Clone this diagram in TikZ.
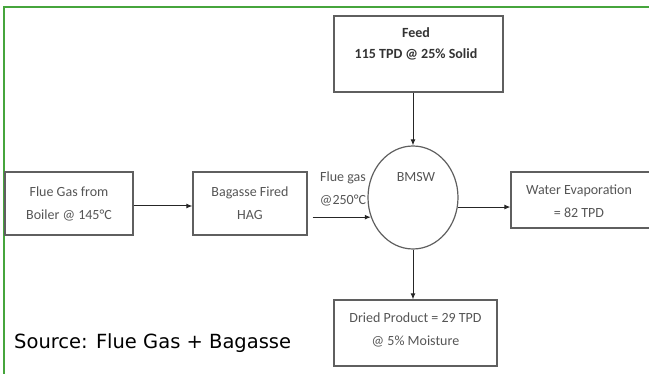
\documentclass[tikz,border=0pt]{standalone}
\usepackage{fontspec}
\setmainfont{Carlito}
\newfontfamily\srcfont{DejaVu Sans}
\usetikzlibrary{shapes.geometric,arrows.meta}
\definecolor{frame}{RGB}{70,165,60}
\definecolor{boxline}{RGB}{95,95,95}
\definecolor{boxtext}{RGB}{85,85,85}
\tikzset{
  x=1pt, y=-1pt,
  pbox/.style={draw=boxline, line width=1.2pt, rectangle, inner sep=0pt},
  btext/.style={text=boxtext, align=center, font=\fontsize{14}{23}\selectfont, inner sep=0pt},
  arr/.style={draw=black!85, line width=1pt, -{Latex[length=6pt,width=5pt]}},
}
\begin{document}
\begin{tikzpicture}
\useasboundingbox (0,0) rectangle (649,374);
\begin{scope}
\clip (0,0) rectangle (649,374);
% frame
\draw[frame, line width=2pt] (3.5,374) -- (3.5,7.5) -- (649,7.5);
% boxes
\node[pbox, minimum width=169pt, minimum height=76pt] (feed) at (418.5,54) {};
\node[btext, text=black!80, font=\bfseries\fontsize{14}{21}\selectfont] (feedtxt) at (416,44) {Feed\\115 TPD @ 25\% Solid};
\node[pbox, minimum width=128pt, minimum height=63pt, btext] (flue) at (69,203.5) {Flue Gas from\\Boiler @ 145°C};
\node[pbox, minimum width=114pt, minimum height=63pt, btext] (hag) at (250,203.5) {Bagasse Fired\\HAG};
\node[draw=boxline, line width=1.2pt, ellipse, minimum width=90pt, minimum height=103pt, inner sep=0pt] (bmsw) at (413,197.5) {};
\node[btext] (bmswtxt) at (416,177) {BMSW};
\node[pbox, minimum width=140pt, minimum height=56pt] (water) at (581,200) {};
\node[btext] (watertxt) at (579,201.5) {Water Evaporation\\= 82 TPD};
\node[pbox, minimum width=163pt, minimum height=66pt] (dried) at (415.5,333) {};
\node[btext] (driedtxt) at (415.5,330) {Dried Product = 29 TPD\\@ 5\% Moisture};
\node[btext] (gaslbl) at (343,188.5) {Flue gas\\@250°C};
\node[anchor=west, inner sep=0pt, font=\srcfont\fontsize{19.5}{22}\selectfont] (src) at (14,343) {Source: Flue Gas + Bagasse};
% connectors
\draw[arr] ([yshift=-2.5pt]flue.east) -- ([yshift=-2.5pt]hag.west);
\draw[arr] ([xshift=5pt]hag.east |- bmsw.205) -- (bmsw.205);
\draw[arr] (feed.south -| bmsw.north) -- (bmsw.north);
\draw[arr] (bmsw.348) -- (water.west |- bmsw.348);
\draw[arr] (bmsw.south) -- (dried.north -| bmsw.south);
\end{scope}
\end{tikzpicture}
\end{document}
